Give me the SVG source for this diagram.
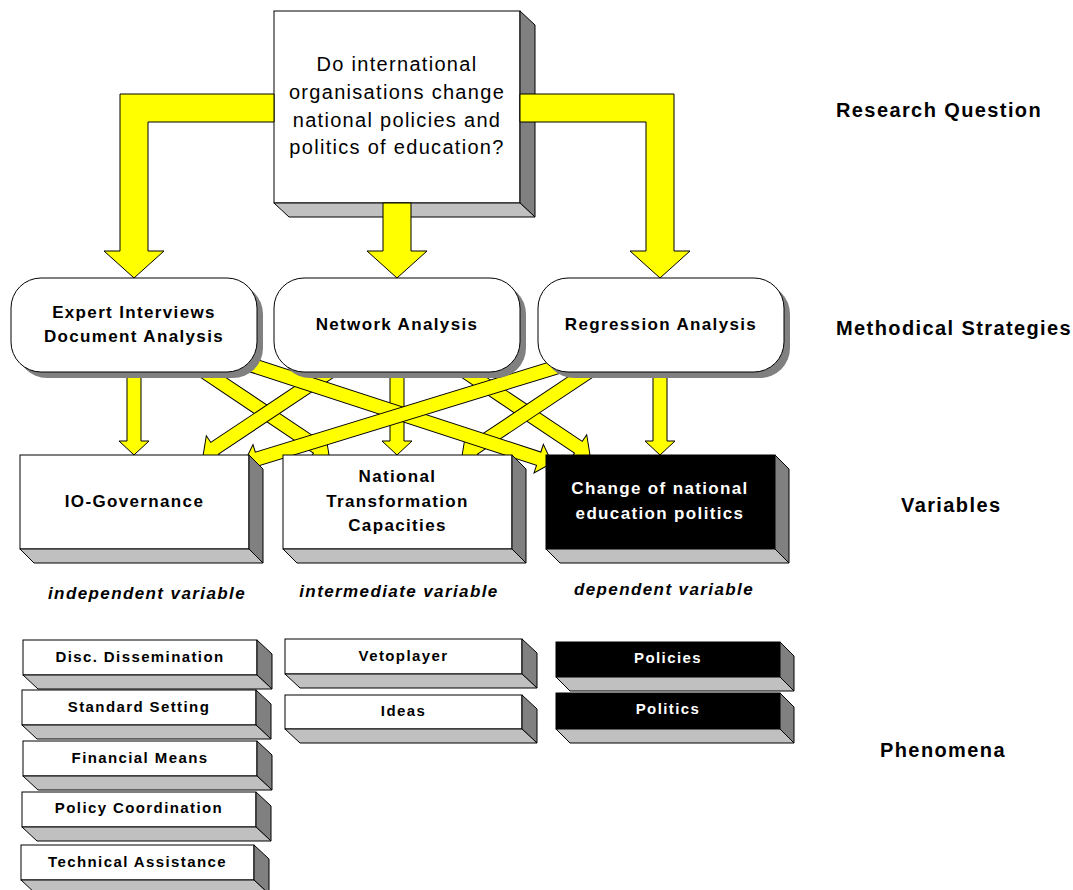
<svg xmlns="http://www.w3.org/2000/svg" width="1073" height="890" viewBox="0 0 1073 890">
<style>
text{font-family:"Liberation Sans",Arial,sans-serif;fill:#000;text-anchor:middle}
.q{font-size:20px;letter-spacing:1.3px}
.lbl{font-size:20px;font-weight:bold;letter-spacing:1.4px;text-anchor:start}
.m{font-size:17px;font-weight:bold;letter-spacing:1.35px}
.it{font-size:17px;font-weight:bold;font-style:italic;letter-spacing:1.4px}
.ph{font-size:15px;font-weight:bold;letter-spacing:1.4px}
.w{fill:#fff}
.fw{fill:#fff;stroke:#000;stroke-width:1}
.fb{fill:#000;stroke:#000;stroke-width:1}
.sr{fill:#808080;stroke:#000;stroke-width:1;stroke-linejoin:round}
.sb{fill:#c0c0c0;stroke:#000;stroke-width:1;stroke-linejoin:round}
.rb{fill:#fff;stroke:#000;stroke-width:1}
.sh{fill:#808080}
.ar{fill:#ffff00;stroke:#000;stroke-width:1;stroke-linejoin:miter}
</style>

<g id="question">
<rect class="fw" x="274" y="11" width="246" height="192"/>
<polygon class="sr" points="520,11 535,25 535,217 520,203"/>
<polygon class="sb" points="274,203 520,203 535,217 289,217"/>
<text class="q" x="397" y="71">Do international</text>
<text class="q" x="397" y="99">organisations change</text>
<text class="q" x="397" y="127">national policies and</text>
<text class="q" x="397" y="154">politics of education?</text>
</g>

<g id="connectors">
<polygon class="ar" points="274,94 120,94 120,251 104,251 134,278 164,251 148,251 148,122 274,122"/>
<polygon class="ar" points="520,94 674,94 674,251 690,251 660,278 630,251 646,251 646,122 520,122"/>
<polygon class="ar" points="383,203 411,203 411,251 427,251 397,278 367,251 383,251"/>
<polygon class="ar" points="127,368 141,368 141,441 149,441 134,455 119,441 127,441"/>
<polygon class="ar" points="390,368 404,368 404,441 412,441 397,455 382,441 390,441"/>
<polygon class="ar" points="653,368 667,368 667,441 675,441 660,455 645,441 653,441"/>
<polygon class="ar" transform="translate(329,455) rotate(33.80)" points="0,0 -14,-15 -14,-7 -153,-7 -153,7 -14,7 -14,15"/>
<polygon class="ar" transform="translate(203,456) rotate(146.31)" points="0,0 -14,-15 -14,-7 -155,-7 -155,7 -14,7 -14,15"/>
<polygon class="ar" transform="translate(590,455) rotate(33.80)" points="0,0 -14,-15 -14,-7 -153,-7 -153,7 -14,7 -14,15"/>
<polygon class="ar" transform="translate(462,456) rotate(146.31)" points="0,0 -14,-15 -14,-7 -155,-7 -155,7 -14,7 -14,15"/>
<polygon class="ar" transform="translate(552,463) rotate(18.05)" points="0,0 -14,-15 -14,-7 -332.4,-7 -332.4,7 -14,7 -14,15"/>
<polygon class="ar" transform="translate(244,463) rotate(162.94)" points="0,0 -14,-15 -14,-7 -330.6,-7 -330.6,7 -14,7 -14,15"/>
</g>

<g id="expert">
<rect class="sh" x="17" y="284" width="246" height="94" rx="30" ry="30"/>
<rect class="rb" x="11" y="278" width="246" height="94" rx="30" ry="30"/>
<text class="m" x="134" y="318">Expert Interviews</text>
<text class="m" x="134" y="342">Document Analysis</text>
</g>
<g id="network">
<rect class="sh" x="280" y="284" width="246" height="94" rx="30" ry="30"/>
<rect class="rb" x="274" y="278" width="246" height="94" rx="30" ry="30"/>
<text class="m" x="397" y="330">Network Analysis</text>
</g>
<g id="regression">
<rect class="sh" x="544" y="284" width="246" height="94" rx="30" ry="30"/>
<rect class="rb" x="538" y="278" width="246" height="94" rx="30" ry="30"/>
<text class="m" x="661" y="330">Regression Analysis</text>
</g>

<g id="io-governance">
<rect class="fw" x="20" y="455" width="229" height="94"/>
<polygon class="sr" points="249,455 263,469 263,563 249,549"/>
<polygon class="sb" points="20,549 249,549 263,563 34,563"/>
<text class="m" x="134.5" y="507">IO-Governance</text>
</g>
<g id="national">
<rect class="fw" x="283" y="455" width="229" height="94"/>
<polygon class="sr" points="512,455 526,469 526,563 512,549"/>
<polygon class="sb" points="283,549 512,549 526,563 297,563"/>
<text class="m" x="397.5" y="482">National</text>
<text class="m" x="397.5" y="507">Transformation</text>
<text class="m" x="397.5" y="531">Capacities</text>
</g>
<g id="change">
<rect class="fb" x="546" y="455" width="229" height="94"/>
<polygon class="sr" points="775,455 789,469 789,563 775,549"/>
<polygon class="sb" points="546,549 775,549 789,563 560,563"/>
<text class="m w" x="660" y="494">Change of national</text>
<text class="m w" x="660" y="519">education politics</text>
</g>

<g id="variable-labels">
<text class="it" x="147" y="599">independent variable</text>
<text class="it" x="399" y="597">intermediate variable</text>
<text class="it" x="664" y="595">dependent variable</text>
</g>

<g id="disc">
<rect class="fw" x="23" y="640" width="234" height="35"/>
<polygon class="sr" points="257,640 272,654 272,689 257,675"/>
<polygon class="sb" points="23,675 257,675 272,689 38,689"/>
<text class="ph" x="140" y="662">Disc. Dissemination</text>
</g>
<g id="standard">
<rect class="fw" x="22" y="690" width="234" height="35"/>
<polygon class="sr" points="256,690 271,704 271,739 256,725"/>
<polygon class="sb" points="22,725 256,725 271,739 37,739"/>
<text class="ph" x="139" y="712">Standard Setting</text>
</g>
<g id="financial">
<rect class="fw" x="23" y="741" width="234" height="35"/>
<polygon class="sr" points="257,741 272,755 272,790 257,776"/>
<polygon class="sb" points="23,776 257,776 272,790 38,790"/>
<text class="ph" x="140" y="763">Financial Means</text>
</g>
<g id="policy-coordination">
<rect class="fw" x="22" y="792" width="234" height="35"/>
<polygon class="sr" points="256,792 271,806 271,841 256,827"/>
<polygon class="sb" points="22,827 256,827 271,841 37,841"/>
<text class="ph" x="139" y="813">Policy Coordination</text>
</g>
<g id="technical">
<rect class="fw" x="21" y="845" width="233" height="35"/>
<polygon class="sr" points="254,845 269,859 269,894 254,880"/>
<polygon class="sb" points="21,880 254,880 269,894 36,894"/>
<text class="ph" x="137.5" y="867">Technical Assistance</text>
</g>
<g id="vetoplayer">
<rect class="fw" x="285" y="639" width="237" height="35"/>
<polygon class="sr" points="522,639 537,653 537,688 522,674"/>
<polygon class="sb" points="285,674 522,674 537,688 300,688"/>
<text class="ph" x="403.5" y="661">Vetoplayer</text>
</g>
<g id="ideas">
<rect class="fw" x="285" y="695" width="237" height="34"/>
<polygon class="sr" points="522,695 537,709 537,743 522,729"/>
<polygon class="sb" points="285,729 522,729 537,743 300,743"/>
<text class="ph" x="403.5" y="716">Ideas</text>
</g>
<g id="policies">
<rect class="fb" x="556" y="642" width="224" height="35"/>
<polygon class="sr" points="780,642 794,656 794,691 780,677"/>
<polygon class="sb" points="556,677 780,677 794,691 570,691"/>
<text class="ph w" x="668" y="663">Policies</text>
</g>
<g id="politics">
<rect class="fb" x="556" y="693" width="224" height="36"/>
<polygon class="sr" points="780,693 794,707 794,743 780,729"/>
<polygon class="sb" points="556,729 780,729 794,743 570,743"/>
<text class="ph w" x="668" y="714">Politics</text>
</g>

<g id="level-labels">
<text class="lbl" x="836" y="117">Research Question</text>
<text class="lbl" x="836" y="335">Methodical Strategies</text>
<text class="lbl" x="901" y="512">Variables</text>
<text class="lbl" x="880" y="757">Phenomena</text>
</g>
</svg>
